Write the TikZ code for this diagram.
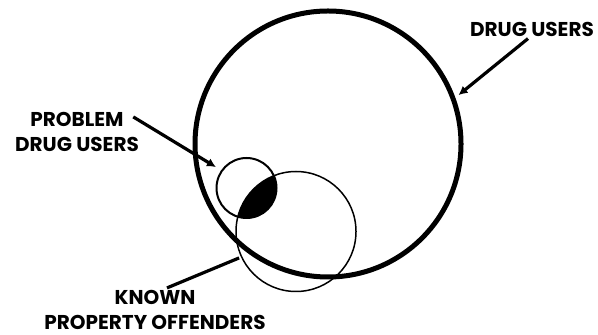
\documentclass[tikz,border=0pt]{standalone}
\usepackage{fontspec}
\setsansfont{Poppins}
\usetikzlibrary{arrows.meta}

\begin{document}
\begin{tikzpicture}[
    x=0.5pt, y=-0.5pt,
    conjunto/.style={circle, draw, inner sep=0pt},
    etiqueta/.style={font=\sffamily\bfseries\fontsize{10}{12.5}\selectfont, align=center, inner sep=1pt},
    flecha/.style={-{Latex[length=4.5pt,width=4.5pt]}, line width=1.6pt},
    linea/.style={line width=1.6pt}
  ]
  \useasboundingbox (0,0) rectangle (598,335);

  % Sets
  \node[conjunto, line width=2.5pt, minimum size=133pt] (users) at (328,144) {};
  \node[conjunto, line width=1pt, minimum size=30pt] (problem) at (246.5,188) {};
  \node[conjunto, line width=0.75pt, minimum size=60pt] (offenders) at (296,231.5) {};

  % Overlap of problem users and offenders
  \begin{scope}
    \clip (problem.center) circle[radius=15pt];
    \fill (offenders.center) circle[radius=30pt];
  \end{scope}

  % Labels
  \node[etiqueta] (lblusers) at (532,29) {DRUG USERS};
  \node[etiqueta] (lblproblem) at (77,132) {PROBLEM\\DRUG USERS};
  \node[etiqueta] (lbloffenders) at (155,310) {KNOWN\\PROPERTY OFFENDERS};

  \draw[flecha, shorten >=2pt] ([xshift=-2pt]lblusers.south) -- (users.20);
  \draw[flecha, shorten >=3pt] ([shift={(-4pt,-3.5pt)}]lblproblem.north east) -- (problem.145);
  \draw[linea, shorten >=1pt] ([shift={(6pt,0pt)}]lbloffenders.north) -- (offenders.205);
\end{tikzpicture}
\end{document}
